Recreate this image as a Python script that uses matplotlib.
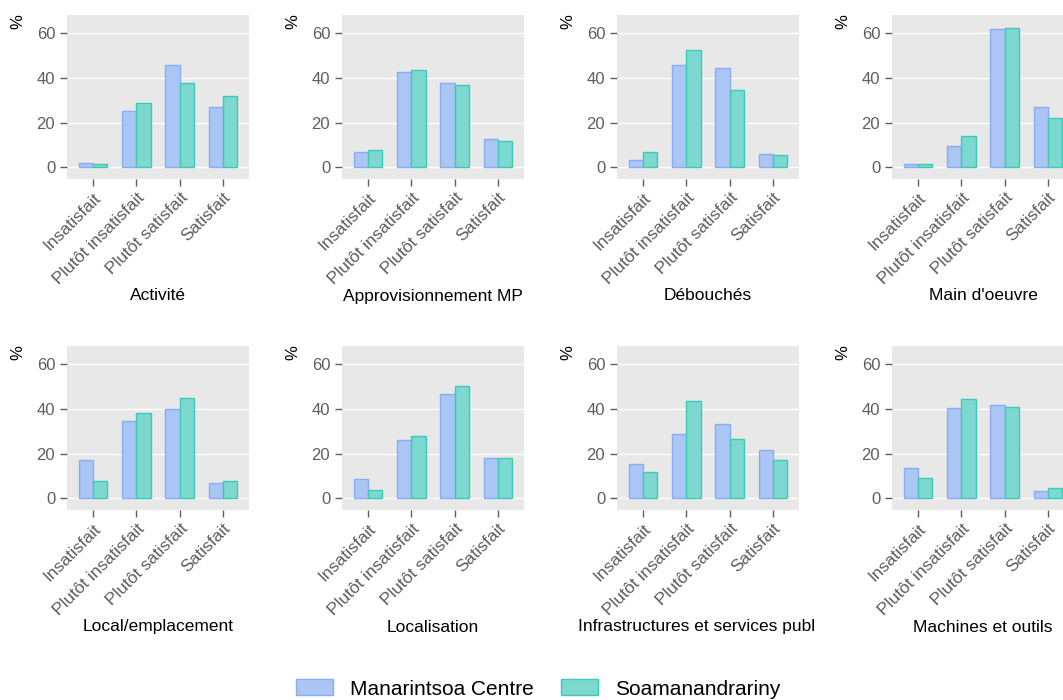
import numpy as np
import matplotlib.pyplot as plt

plt.rcParams['font.family'] = ['Liberation Sans', 'DejaVu Sans']

# Satisfaction levels (%), two sites
categories = ["Insatisfait", "Plutôt insatisfait", "Plutôt satisfait", "Satisfait"]
groups = ["Manarintsoa Centre", "Soamanandrariny"]
panels = ["Activité", "Approvisionnement MP", "Débouchés", "Main d'oeuvre",
          "Local/emplacement", "Localisation", "Infrastructures et services publ",
          "Machines et outils"]

manarintsoa = [
    [1.8, 25.4, 45.7, 26.9],
    [6.7, 42.7, 37.6, 12.5],
    [3.4, 45.7, 44.3, 5.8],
    [1.3, 9.4, 61.8, 27.2],
    [17.0, 34.8, 40.2, 7.1],
    [8.5, 26.3, 46.6, 17.9],
    [15.2, 29.0, 33.5, 21.6],
    [13.4, 40.6, 42.0, 3.1],
]
soamanandrariny = [
    [1.5, 28.7, 37.6, 31.8],
    [7.6, 43.4, 37.0, 11.6],
    [7.0, 52.4, 34.5, 5.4],
    [1.3, 13.9, 62.2, 21.9],
    [7.6, 38.4, 45.1, 8.0],
    [3.6, 27.7, 50.4, 17.9],
    [11.6, 43.8, 26.8, 17.4],
    [9.1, 44.6, 41.1, 4.5],
]

blue_fill, blue_edge = "#abc6f5", "#86adf5"
green_fill, green_edge = "#7dd8cf", "#3ccab6"

W, H = 1063, 700
fig = plt.figure(figsize=(W / 100, H / 100), dpi=100)

col_left = [67, 342, 617, 892]
row_top = [15, 346]
aw, ah = 182, 164
title_y = [296, 627]
# the long title is clipped on the right in the original, so it sits further left
title_shift = {6: -11}

x = np.arange(len(categories))
bw = 0.33

for i, name in enumerate(panels):
    r, c = divmod(i, 4)
    ax = fig.add_axes([col_left[c] / W, (H - row_top[r] - ah) / H, aw / W, ah / H])
    ax.set_facecolor("#e8e8e8")
    b1 = ax.bar(x - bw / 2, manarintsoa[i], bw, color=blue_fill, edgecolor=blue_edge,
                linewidth=1.0, zorder=3)
    b2 = ax.bar(x + bw / 2, soamanandrariny[i], bw, color=green_fill, edgecolor=green_edge,
                linewidth=1.0, zorder=3)
    ax.set_xlim(-0.6, 3.6)
    ax.set_ylim(-5.2, 68.2)
    ax.set_yticks([0, 20, 40, 60])
    ax.grid(axis="y", color="white", linewidth=1.0, zorder=0)
    ax.set_axisbelow(True)
    for s in ax.spines.values():
        s.set_visible(False)
    ax.set_xticks(x)
    ax.set_xticklabels(categories, rotation=45, ha="right", rotation_mode="anchor")
    ax.tick_params(axis="both", colors="#5e5e5e", labelsize=12, length=5, width=1)
    ax.tick_params(axis="x", labelsize=12.5, pad=3)
    cx = col_left[c] + aw / 2 + title_shift.get(i, 0)
    fig.text(cx / W, 1 - title_y[r] / H, name, ha="center",
             va="center", fontsize=12.5, color="black")
    fig.text((col_left[c] - 49) / W, 1 - (row_top[r] + 7) / H, "%", rotation=90,
             ha="center", va="center", fontsize=12, color="black")

fig.legend([b1, b2], groups, loc="center", bbox_to_anchor=(538 / W, 1 - 689 / H),
           ncol=2, frameon=False, fontsize=15, handlelength=1.78, handleheight=0.8,
           handletextpad=0.82, columnspacing=1.3)

fig.savefig("out.png", dpi=100)
